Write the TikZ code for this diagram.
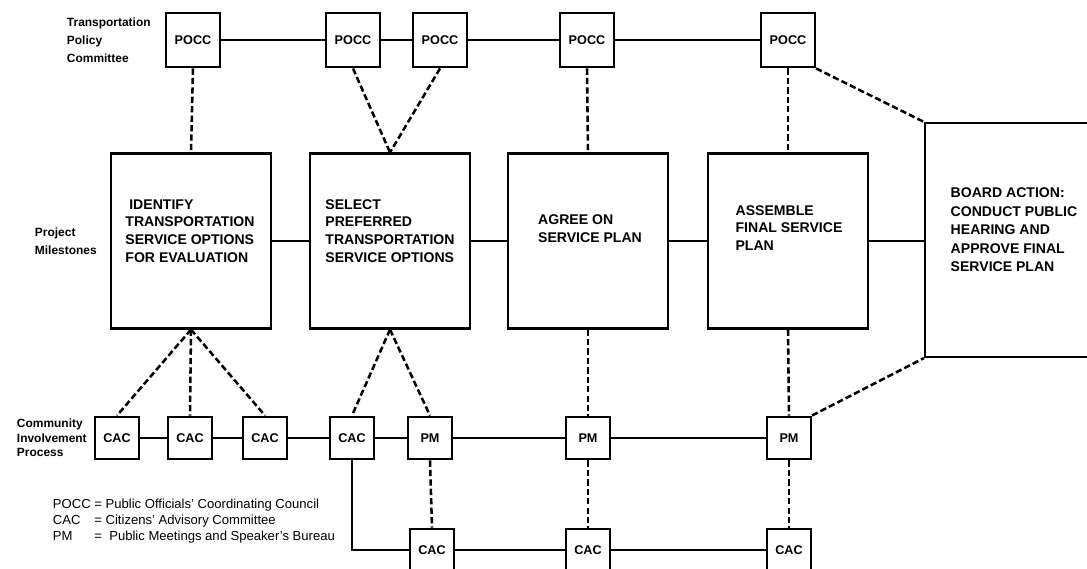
\documentclass[tikz,border=0pt]{standalone}
\usepackage{fontspec}
\setmainfont{Liberation Sans}
\usetikzlibrary{positioning}

\begin{document}
\begin{tikzpicture}[x=0.025cm,y=-0.025cm,
  pocc/.style={draw,line width=1.5pt,minimum width=1.35cm,minimum height=1.37cm,inner sep=0pt,font=\bfseries\fontsize{9}{10}\selectfont},
  smallbox/.style={draw,line width=1.5pt,minimum width=1.1cm,minimum height=1.07cm,inner sep=0pt,font=\bfseries\fontsize{9}{10}\selectfont},
  stage/.style={draw,line width=1.5pt,minimum width=4cm,minimum height=4.375cm},
  stagetext/.style={align=left,font=\bfseries\fontsize{10}{12.6}\selectfont},
  sidelabel/.style={anchor=west,align=left,font=\bfseries\fontsize{8.5}{12.7}\selectfont},
  solidlink/.style={line width=0.9pt},
  dashlink/.style={line width=1.8pt,dash pattern=on 4.5pt off 2.2pt}]
\useasboundingbox (0,0) rectangle (1087,569);

% policy committee row
\node[pocc] (pocc1) at (193,40) {POCC};
\node[pocc] (pocc2) at (353,40) {POCC};
\node[pocc] (pocc3) at (440,40) {POCC};
\node[pocc] (pocc4) at (587,40) {POCC};
\node[pocc] (pocc5) at (788,40) {POCC};

% milestones
\node[stage] (ms1) at (191,241) {};
\node[stage] (ms2) at (390,241) {};
\node[stage] (ms3) at (588,241) {};
\node[stage] (ms4) at (788,241) {};
\node[draw,line width=1.5pt,minimum width=4.375cm,minimum height=5.85cm] (board) at (1012.5,240) {};

\node[stagetext] (ms1txt) at (190,231) {\ IDENTIFY\\TRANSPORTATION\\SERVICE OPTIONS\\FOR EVALUATION};
\node[stagetext] (ms2txt) at (390,231) {SELECT\\PREFERRED\\TRANSPORTATION\\SERVICE OPTIONS};
\node[stagetext] (ms3txt) at (590,229) {AGREE ON\\SERVICE PLAN};
\node[stagetext] (ms4txt) at (789,228) {ASSEMBLE\\FINAL SERVICE\\PLAN};
\node[stagetext,font=\bfseries\fontsize{10}{13.2}\selectfont] (boardtxt) at (1014,230) {BOARD ACTION:\\CONDUCT PUBLIC\\HEARING AND\\APPROVE FINAL\\SERVICE PLAN};

% community row
\node[smallbox] (cac1) at (117,438) {CAC};
\node[smallbox] (cac2) at (190,438) {CAC};
\node[smallbox] (cac3) at (265,438) {CAC};
\node[smallbox] (cac4) at (352,438) {CAC};
\node[smallbox] (pm1) at (430,438) {PM};
\node[smallbox] (pm2) at (588,438) {PM};
\node[smallbox] (pm3) at (789,438) {PM};
\node[smallbox] (bcac1) at (432,550) {CAC};
\node[smallbox] (bcac2) at (588,550) {CAC};
\node[smallbox] (bcac3) at (789,550) {CAC};

% row labels
\node[sidelabel] (tpc) at (62,40) {Transportation\\Policy\\Committee};
\node[sidelabel] (pml) at (30,241) {Project\\Milestones};
\node[sidelabel,font=\bfseries\fontsize{8.5}{10.3}\selectfont] (cip) at (12,438) {Community\\Involvement\\Process};
\node[anchor=west,font=\fontsize{9.3}{11.4}\selectfont] (key) at (48,521)
  {\begin{tabular}{@{}l@{\ }l@{}}POCC & = Public Officials' Coordinating Council\\
   CAC & = Citizens' Advisory Committee\\
   PM & = \ Public Meetings and Speaker's Bureau\end{tabular}};

% solid connectors
\draw[solidlink] (pocc1) -- (pocc2) -- (pocc3) -- (pocc4) -- (pocc5);
\draw[solidlink] (ms1) -- (ms2) -- (ms3) -- (ms4);
\draw[solidlink] (ms4.east) -- (ms4.east -| board.west);
\draw[solidlink] (cac1) -- (cac2) -- (cac3) -- (cac4) -- (pm1) -- (pm2) -- (pm3);
\draw[solidlink] (cac4.south) |- (bcac1.west);
\draw[solidlink] (bcac1) -- (bcac2) -- (bcac3);

% dashed ties
\draw[dashlink] (pocc1.south) -- (ms1.north);
\draw[dashlink] (pocc2.south) -- (ms2.north);
\draw[dashlink] (pocc3.south) -- (ms2.north);
\draw[dashlink] (pocc4.south) -- (ms3.north);
\draw[dashlink] (pocc5.south) -- (ms4.north);
\draw[dashlink] (pocc5.south east) -- (board.north west);
\draw[dashlink] (ms1.south) -- (cac1.north);
\draw[dashlink] (ms1.south) -- (cac2.north);
\draw[dashlink] (ms1.south) -- (cac3.north);
\draw[dashlink] (ms2.south) -- (cac4.north);
\draw[dashlink] (ms2.south) -- (pm1.north);
\draw[dashlink] (ms3.south) -- (pm2.north);
\draw[dashlink] (ms4.south) -- (pm3.north);
\draw[dashlink] (pm3.north east) -- (board.south west);
\draw[dashlink] (pm1.south) -- (bcac1.north);
\draw[dashlink] (pm2.south) -- (bcac2.north);
\draw[dashlink] (pm3.south) -- (bcac3.north);
\end{tikzpicture}
\end{document}
